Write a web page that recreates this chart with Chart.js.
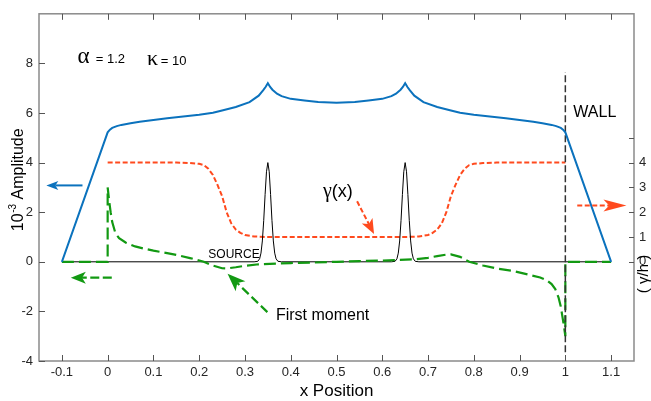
<!DOCTYPE html>
<html><head><meta charset="utf-8">
<script src="https://cdn.jsdelivr.net/npm/chart.js@4.4.1/dist/chart.umd.min.js"></script>
<style>html,body{margin:0;padding:0;background:#fff}</style>
</head><body>
<canvas id="c" width="651" height="401"></canvas>
<script>
// ---------- data ----------
const xTickValues = [-0.1, 0, 0.1, 0.2, 0.3, 0.4, 0.5, 0.6, 0.7, 0.8, 0.9, 1, 1.1];
const xTickLabels = ['-0.1', '0', '0.1', '0.2', '0.3', '0.4', '0.5', '0.6', '0.7', '0.8', '0.9', '1', '1.1'];
const yTickValues = [-4, -2, 0, 2, 4, 6, 8];
const yTickLabels = ['-4', '-2', '0', '2', '4', '6', '8'];
const y2TickValues = [0, 1, 2, 3, 4, 5];
const y2TickLabels = ['0', '1', '2', '3', '4', ''];

// amplitude (blue)
const amplitudeX = [-0.1, 0, 0.005, 0.01, 0.02, 0.03, 0.05, 0.07, 0.1, 0.13, 0.16, 0.2, 0.23, 0.25, 0.28, 0.31, 0.33, 0.34, 0.345, 0.35,
  0.355, 0.36, 0.37, 0.38, 0.4, 0.43, 0.46, 0.5, 0.54, 0.57, 0.6, 0.62, 0.63, 0.64, 0.645, 0.65,
  0.655, 0.66, 0.67, 0.69, 0.72, 0.75, 0.77, 0.8, 0.84, 0.87, 0.9, 0.93, 0.95, 0.97, 0.98, 0.99, 0.995, 1, 1.1];
const amplitudeY = [0, 5.22, 5.33, 5.4, 5.47, 5.52, 5.59, 5.65, 5.72, 5.79, 5.85, 5.93, 6.01, 6.1, 6.24, 6.44, 6.7, 6.92, 7.05, 7.2,
  7.05, 6.94, 6.78, 6.68, 6.57, 6.5, 6.44, 6.41, 6.44, 6.5, 6.57, 6.68, 6.78, 6.94, 7.05, 7.2,
  7.05, 6.92, 6.7, 6.44, 6.24, 6.1, 6.01, 5.93, 5.85, 5.79, 5.72, 5.65, 5.59, 5.52, 5.47, 5.4, 5.33, 5.22, 0];

// gamma / h (red, right axis)
const gammaX = [0, 0.15, 0.18, 0.2, 0.21, 0.22, 0.23, 0.24, 0.25, 0.26, 0.27, 0.28, 0.29, 0.3, 0.32, 0.35, 0.5,
  0.65, 0.68, 0.7, 0.71, 0.72, 0.73, 0.74, 0.75, 0.76, 0.77, 0.78, 0.79, 0.8, 0.82, 0.85, 1];
const gammaY = [4, 4, 3.98, 3.95, 3.9, 3.75, 3.5, 3.1, 2.65, 2.0, 1.55, 1.3, 1.17, 1.08, 1.02, 1.0, 1.0,
  1.0, 1.02, 1.08, 1.17, 1.3, 1.55, 2.0, 2.65, 3.1, 3.5, 3.75, 3.9, 3.95, 3.98, 4, 4];

// first moment (green)
const momentX = [-0.1, 0, 0, 0.003, 0.0065, 0.01, 0.017, 0.025, 0.04, 0.06, 0.08, 0.1, 0.13, 0.15, 0.18, 0.21, 0.23, 0.25, 0.26, 0.28, 0.3, 0.33, 0.37, 0.4, 0.45, 0.5,
  0.55, 0.6, 0.63, 0.67, 0.7, 0.72, 0.74, 0.75, 0.77, 0.79, 0.82, 0.85, 0.886, 0.92, 0.945, 0.96, 0.97, 0.978, 0.985, 0.99, 0.9935, 0.997, 1, 1, 1.1];
const momentY = [0, 0, 3.0, 2.5, 2.0, 1.6, 1.15, 0.95, 0.77, 0.62, 0.53, 0.45, 0.35, 0.28, 0.15, 0.0, -0.15, -0.26, -0.27, -0.22, -0.16, -0.1, -0.07, -0.05, -0.03, 0,
  0.03, 0.05, 0.07, 0.1, 0.16, 0.23, 0.29, 0.3, 0.2, 0.0, -0.15, -0.27, -0.37, -0.52, -0.63, -0.75, -0.9, -1.1, -1.43, -1.8, -2.2, -2.6, -3.0, 0, 0];

// source (black)
const sourceX = [-0.1, 0.32, 0.328, 0.332, 0.335, 0.338, 0.341, 0.344, 0.347, 0.35, 0.353, 0.356, 0.359, 0.362, 0.365, 0.368, 0.372, 0.38,
  0.62, 0.628, 0.632, 0.635, 0.638, 0.641, 0.644, 0.647, 0.65, 0.653, 0.656, 0.659, 0.662, 0.665, 0.668, 0.672, 0.68, 1.1];
const sourceY = [0, 0, 0.02, 0.12, 0.35, 0.84, 1.67, 2.71, 3.63, 4, 3.63, 2.71, 1.67, 0.84, 0.35, 0.12, 0.02, 0,
  0, 0.02, 0.12, 0.35, 0.84, 1.67, 2.71, 3.63, 4, 3.63, 2.71, 1.67, 0.84, 0.35, 0.12, 0.02, 0, 0];

// wall (dashed vertical)
const wallX = [1, 1];
const wallY = [-3.65, 7.65];

// ---------- helpers ----------
const pts = (xs, ys) => xs.map((x, i) => ({x: x, y: ys[i]}));
const SANS = "'Liberation Sans', Arial, Helvetica, sans-serif";
const SERIF = "'Liberation Serif', 'DejaVu Serif', serif";
const BLUE = '#0b72bd', RED = '#ff4a1e', GREEN = '#129912';

function drawArrow(ctx, x1, y1, x2, y2, color, dash, headLen, headHalf, lw) {
  const ang = Math.atan2(y2 - y1, x2 - x1);
  const c = Math.cos(ang), s = Math.sin(ang);
  const bx = x2 - c * headLen * 0.75, by = y2 - s * headLen * 0.75;
  ctx.save();
  ctx.strokeStyle = color; ctx.fillStyle = color; ctx.lineWidth = lw;
  ctx.setLineDash(dash);
  ctx.beginPath(); ctx.moveTo(x1, y1); ctx.lineTo(bx, by); ctx.stroke();
  ctx.setLineDash([]);
  const backX = x2 - c * headLen, backY = y2 - s * headLen;
  ctx.beginPath();
  ctx.moveTo(x2, y2);
  ctx.lineTo(backX - s * headHalf, backY + c * headHalf);
  ctx.lineTo(bx, by);
  ctx.lineTo(backX + s * headHalf, backY - c * headHalf);
  ctx.closePath(); ctx.fill();
  ctx.restore();
}

const decor = {
  id: 'decor',
  afterDraw(chart) {
    const ctx = chart.ctx, a = chart.chartArea;
    const sx = chart.scales.x, sy = chart.scales.y, sy2 = chart.scales.y2;
    const X = v => sx.getPixelForValue(v), Y = v => sy.getPixelForValue(v);
    ctx.save();
    // frame
    ctx.strokeStyle = '#8a8a8a'; ctx.lineWidth = 1.5;
    ctx.strokeRect(a.left, a.top, a.right - a.left, a.bottom - a.top);
    // ticks (inward)
    ctx.strokeStyle = '#555'; ctx.lineWidth = 1;
    ctx.beginPath();
    xTickValues.forEach(v => {
      const px = Math.round(X(v)) + 0.5;
      ctx.moveTo(px, a.bottom); ctx.lineTo(px, a.bottom - 6);
      ctx.moveTo(px, a.top); ctx.lineTo(px, a.top + 6);
    });
    yTickValues.forEach(v => {
      const py = Math.round(Y(v)) + 0.5;
      ctx.moveTo(a.left, py); ctx.lineTo(a.left + 6, py);
    });
    y2TickValues.forEach(v => {
      const py = Math.round(sy2.getPixelForValue(v)) + 0.5;
      ctx.moveTo(a.right, py); ctx.lineTo(a.right - 5, py);
    });
    ctx.stroke();

    // axis titles
    ctx.fillStyle = '#000';
    ctx.font = '17px ' + SANS; ctx.textAlign = 'center'; ctx.textBaseline = 'middle';
    ctx.fillText('x Position', (a.left + a.right) / 2, 391);

    // left title: 10^-3 Amplitude (rotated)
    ctx.save();
    ctx.translate(17, 180); ctx.rotate(-Math.PI / 2);
    ctx.textAlign = 'left'; ctx.textBaseline = 'alphabetic';
    ctx.font = '16px ' + SANS; const w1 = ctx.measureText('10').width;
    ctx.font = '10px ' + SANS; const w2 = ctx.measureText('-3').width;
    ctx.font = '16px ' + SANS; const w3 = ctx.measureText(' Amplitude').width;
    let start = -(w1 + w2 + w3) / 2;
    ctx.font = '16px ' + SANS; ctx.fillText('10', start, 6);
    ctx.font = '10px ' + SANS; ctx.fillText('-3', start + w1 + 0.5, -1);
    ctx.font = '16px ' + SANS; ctx.fillText(' Amplitude', start + w1 + w2 + 0.5, 6);
    ctx.restore();

    // right title ( γ/h )
    ctx.save();
    ctx.translate(644, 274); ctx.rotate(-Math.PI / 2);
    ctx.textAlign = 'center'; ctx.textBaseline = 'middle';
    ctx.font = '15px ' + SANS;
    ctx.fillText('( γ/h )', 0, 0);
    ctx.restore();

    // parameters
    ctx.textAlign = 'left'; ctx.textBaseline = 'alphabetic';
    ctx.font = '23px ' + SERIF; ctx.fillText('α', X(-0.066), Y(8.0));
    ctx.font = '13px ' + SANS; ctx.fillText('= 1.2', X(-0.026), Y(8.0));
    ctx.font = '22px ' + SERIF; ctx.fillText('κ', X(0.086), Y(7.92));
    ctx.font = '13px ' + SANS; ctx.fillText('= 10', X(0.116), Y(7.92));

    // labels
    ctx.font = '20px ' + SERIF; const gw = ctx.measureText('γ').width;
    ctx.font = '18px ' + SANS; const pw = ctx.measureText('(x)').width;
    let gx = X(0.503) - (gw + pw) / 2;
    ctx.font = '20px ' + SERIF; ctx.fillText('γ', gx, Y(2.6));
    ctx.font = '18px ' + SANS; ctx.fillText('(x)', gx + gw, Y(2.6));
    ctx.font = '12px ' + SANS; ctx.textAlign = 'center';
    ctx.fillText('SOURCE', X(0.276), Y(0.16));
    ctx.font = '16px ' + SANS; ctx.textAlign = 'left';
    ctx.fillText('First moment', X(0.3676), Y(-2.36));
    ctx.fillText('WALL', X(1.0175), Y(5.84));

    // arrows
    drawArrow(ctx, X(-0.055), Y(3.08), X(-0.134), Y(3.08), BLUE, [], 12, 4.5, 2);
    drawArrow(ctx, X(0.009), Y(-0.64), X(-0.0805), Y(-0.64), GREEN, [9, 3.5], 15, 6, 2.2);
    drawArrow(ctx, X(1.026), sy2.getPixelForValue(2.27), X(1.1335), sy2.getPixelForValue(2.27), RED, [5, 2.5], 23, 6, 2);
    drawArrow(ctx, X(0.545), Y(2.44), X(0.582), Y(1.12), RED, [5, 2.5], 15, 6, 2);
    drawArrow(ctx, X(0.349), Y(-2.03), X(0.262), Y(-0.48), GREEN, [9, 4], 18, 7, 2.2);
    ctx.restore();
  }
};

const tickFont = {family: SANS, size: 13};
const TICKCOL = '#262626';

new Chart(document.getElementById('c'), {
  type: 'line',
  data: {
    datasets: [
      {label: 'amplitude', data: pts(amplitudeX, amplitudeY), borderColor: BLUE, borderWidth: 2, yAxisID: 'y'},
      {label: 'wall', data: pts(wallX, wallY), borderColor: '#333', borderWidth: 1.5, borderDash: [7, 3], yAxisID: 'y'},
      {label: 'first moment', data: pts(momentX, momentY), borderColor: GREEN, borderWidth: 2.2, borderDash: [12, 5], yAxisID: 'y'},
      {label: 'source', data: pts(sourceX, sourceY), borderColor: '#000', borderWidth: 1, yAxisID: 'y'},
      {label: 'gamma/h', data: pts(gammaX, gammaY), borderColor: RED, borderWidth: 2, borderDash: [5, 2.5], yAxisID: 'y2'}
    ]
  },
  options: {
    responsive: false, animation: false, devicePixelRatio: 1,
    layout: {padding: {top: 11, left: 0, right: 0, bottom: 0}},
    plugins: {legend: {display: false}, tooltip: {enabled: false}},
    elements: {point: {radius: 0}, line: {tension: 0, fill: false, borderCapStyle: 'butt'}},
    scales: {
      x: {
        type: 'linear', position: 'bottom', min: -0.15, max: 1.15,
        grid: {display: false, drawTicks: false}, border: {display: false},
        afterBuildTicks: s => { s.ticks = xTickValues.map(v => ({value: v})); },
        afterFit: s => { s.height = 40; },
        ticks: {callback: (v, i) => xTickLabels[i], padding: 4, font: tickFont, color: TICKCOL, maxRotation: 0, autoSkip: false}
      },
      y: {
        type: 'linear', position: 'left', min: -4, max: 10,
        grid: {display: false, drawTicks: false}, border: {display: false},
        afterBuildTicks: s => { s.ticks = yTickValues.map(v => ({value: v})); },
        afterFit: s => { s.width = 39; },
        ticks: {callback: (v, i) => yTickLabels[i], padding: 6, font: tickFont, color: TICKCOL, autoSkip: false}
      },
      y2: {
        type: 'linear', position: 'right', min: -4, max: 10,
        grid: {display: false, drawTicks: false}, border: {display: false},
        afterBuildTicks: s => { s.ticks = y2TickValues.map(v => ({value: v})); },
        afterFit: s => { s.width = 17; },
        ticks: {callback: (v, i) => y2TickLabels[i], padding: 5, font: tickFont, color: TICKCOL, autoSkip: false}
      }
    }
  },
  plugins: [decor]
});
</script>
</body></html>
